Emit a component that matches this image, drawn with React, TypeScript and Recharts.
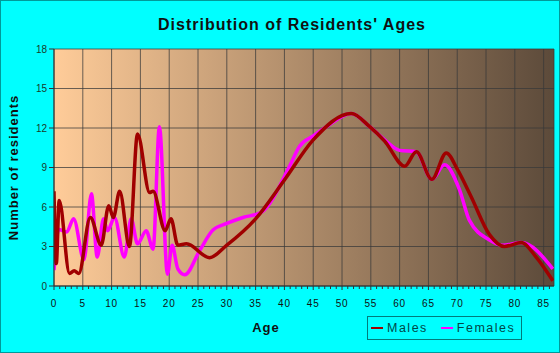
import { LineChart, Line, XAxis, YAxis, CartesianGrid } from "recharts";

// ages where the curve turns
const maleAges = [0, 0.4, 0.9, 2.7, 3.5, 4.3, 6.3, 8.2, 9.5, 10.3, 11.4, 13.1, 14.5, 16.6, 17.2, 19.3, 20.3, 21.5, 23, 27, 30, 35, 40, 45, 51.6, 54.8, 57.4, 60.9, 62.9, 65.6, 68.1, 70.1, 72.4, 75.6, 78.2, 81.1, 83.7, 86.6];
const maleCounts = [7.2, 1.7, 6.5, 0.95, 1.15, 0.95, 5.2, 3.1, 6.1, 5.2, 7.2, 3.0, 11.55, 7.1, 7.2, 4.2, 5.1, 3.1, 3.2, 2.15, 3.1, 5.1, 8.05, 11.1, 13.1, 12.1, 11.0, 9.1, 10.2, 8.1, 10.1, 8.8, 6.8, 3.9, 3.0, 3.3, 2.2, 0.4];

const femaleAges = [0, 0.8, 2.2, 3.4, 5.2, 6.5, 7.5, 8.6, 9.3, 10.5, 12.2, 13.4, 14.5, 16, 17.2, 18.3, 19.7, 20.5, 21.5, 22.7, 25.3, 27.6, 30, 32.8, 36, 40.9, 42.6, 45, 47.3, 51.6, 54.8, 57.4, 60, 62.9, 65.6, 67.8, 70.4, 72.1, 75.6, 77.9, 81.1, 86.6];
const femaleCounts = [1.2, 4.3, 4.1, 5.1, 2.0, 7.0, 2.2, 5.1, 4.2, 5.2, 2.2, 5.1, 3.2, 4.2, 2.8, 12.1, 0.9, 3.1, 1.3, 0.85, 2.7, 4.25, 4.75, 5.2, 5.6, 9.1, 10.6, 11.4, 12.1, 13.1, 12.1, 11.1, 10.3, 10.2, 8.1, 9.2, 7.3, 5.0, 3.5, 3.1, 3.3, 1.3];

const xMajorTicks = [0, 5, 10, 15, 20, 25, 30, 35, 40, 45, 50, 55, 60, 65, 70, 75, 80, 85];
const xAllTicks = Array.from({ length: 87 }, (_, i) => i);
const yTicks = [0, 3, 6, 9, 12, 15, 18];

const seriesNames = ["Males", "Females"];
const seriesColors = ["#a00000", "#ff00ff"];

const males = maleAges.map((age, i) => ({ age, n: maleCounts[i] }));
const females = femaleAges.map((age, i) => ({ age, n: femaleCounts[i] }));

const FONT = "Arial, 'Liberation Sans', sans-serif";
const X_DOMAIN: [number, number] = [0, 86.8];

function AgeTick(props: any) {
  const { x, y, payload } = props;
  const v = payload.value as number;
  const major = v % 5 === 0;
  return (
    <g>
      <line x1={x} x2={x} y1={y} y2={y + (major ? 4 : 3)} stroke="#333" />
      {major && (
        <text
          x={x}
          y={y + 21}
          textAnchor="middle"
          fontSize={10}
          fontFamily={FONT}
          fill="#111"
          letterSpacing={0.8}
        >
          {v}
        </text>
      )}
    </g>
  );
}

export default function App() {
  return (
    <div
      style={{
        position: "relative",
        width: 560,
        height: 353,
        background: "#00ffff",
        boxShadow: "inset 0 0 0 1px #009a9a",
        fontFamily: FONT,
      }}
    >
      <style>{`body{margin:0}`}</style>
      <div
        style={{
          position: "absolute",
          left: 0,
          width: 584,
          top: 17,
          textAlign: "center",
          fontSize: 16,
          lineHeight: "16px",
          fontWeight: "bold",
          letterSpacing: 1,
          color: "#111",
        }}
      >
        Distribution of Residents' Ages
      </div>
      <LineChart
        width={560}
        height={353}
        margin={{ top: 49, right: 6, left: 0, bottom: 37 }}
        style={{ position: "absolute", left: 0, top: 0 }}
      >
        <defs>
          <linearGradient id="plotBg" x1="0" y1="0" x2="1" y2="0">
            <stop offset="0%" stopColor="#ffcc99" />
            <stop offset="100%" stopColor="#5c4a3a" />
          </linearGradient>
        </defs>
        <CartesianGrid
          xAxisId="grid"
          fill="url(#plotBg)"
          fillOpacity={1}
          stroke="#3a3a3a"
          strokeOpacity={0.75}
        />
        <XAxis
          xAxisId="grid"
          type="number"
          dataKey="age"
          domain={X_DOMAIN}
          allowDataOverflow
          ticks={xMajorTicks}
          hide
        />
        <XAxis
          type="number"
          dataKey="age"
          domain={X_DOMAIN}
          allowDataOverflow
          ticks={xAllTicks}
          interval={0}
          tickSize={0}
          tickMargin={0}
          tickLine={false}
          tick={<AgeTick />}
          stroke="#333"
          height={30}
        />
        <YAxis
          type="number"
          domain={[0, 18]}
          ticks={yTicks}
          interval={0}
          width={54}
          tickSize={5}
          tickMargin={2}
          stroke="#333"
          tick={{ fontSize: 10, fill: "#1a3a2a", fontFamily: FONT }}
          label={({ viewBox }: any) => {
            const cx = 13;
            const cy = viewBox.y + viewBox.height / 2;
            return (
              <text
                x={cx}
                y={cy}
                transform={`rotate(-90, ${cx}, ${cy})`}
                textAnchor="middle"
                dominantBaseline="central"
                fontSize={13}
                fontWeight="bold"
                letterSpacing={1}
                fontFamily={FONT}
                fill="#111"
              >
                Number of residents
              </text>
            );
          }}
        />
        <Line
          data={females}
          dataKey="n"
          name={seriesNames[1]}
          type="monotone"
          stroke={seriesColors[1]}
          strokeWidth={3.5}
          dot={false}
          isAnimationActive={false}
        />
        <Line
          data={males}
          dataKey="n"
          name={seriesNames[0]}
          type="monotone"
          stroke={seriesColors[0]}
          strokeWidth={3.5}
          dot={false}
          isAnimationActive={false}
        />
      </LineChart>
      <div
        style={{
          position: "absolute",
          left: 216,
          width: 100,
          top: 321,
          textAlign: "center",
          fontSize: 13,
          lineHeight: "13px",
          fontWeight: "bold",
          letterSpacing: 1,
          color: "#111",
        }}
      >
        Age
      </div>
      <div
        style={{
          position: "absolute",
          left: 367,
          top: 316,
          width: 153,
          height: 22,
          border: "1px solid #007b7b",
          display: "flex",
          alignItems: "center",
          fontSize: 12.5,
          letterSpacing: 1.5,
          color: "#004848",
        }}
      >
        {seriesNames.map((name, i) => (
          <div key={name} style={{ display: "flex", alignItems: "center", marginLeft: i === 0 ? 3 : 13 }}>
            <span style={{ width: 12, height: 2, background: seriesColors[i], marginRight: 4 }} />
            <span>{name}</span>
          </div>
        ))}
      </div>
    </div>
  );
}
